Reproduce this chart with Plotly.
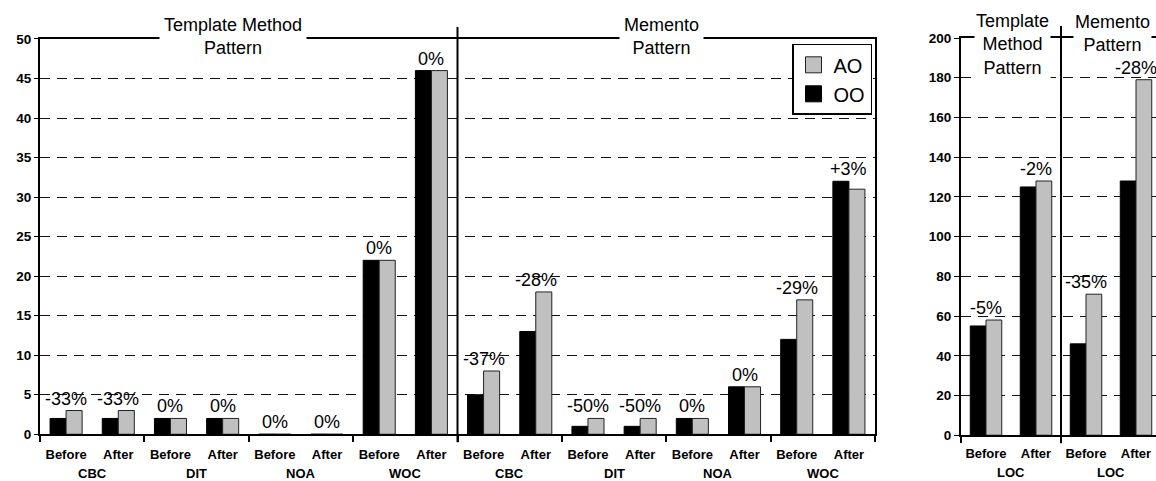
import plotly.graph_objects as go

# ---- data -------------------------------------------------------------
patterns = ["Template Method<br>Pattern", "Memento<br>Pattern"]
patterns_loc = ["Template<br>Method<br>Pattern", "Memento<br>Pattern"]
metrics = ["CBC", "DIT", "NOA", "WOC"]
phases = ["Before", "After"]

# metric values per (metric, phase), Template Method pattern
oo_template = [2, 2, 2, 2, 0, 0, 22, 46]
ao_template = [3, 3, 2, 2, 0, 0, 22, 46]
change_template = ["-33%", "-33%", "0%", "0%", "0%", "0%", "0%", "0%"]

# metric values per (metric, phase), Memento pattern
oo_memento = [5, 13, 1, 1, 2, 6, 12, 32]
ao_memento = [8, 18, 2, 2, 2, 6, 17, 31]
change_memento = ["-37%", "-28%", "-50%", "-50%", "0%", "0%", "-29%", "+3%"]

# lines of code: Template Before/After, Memento Before/After
loc_metric = "LOC"
loc_oo = [55, 125, 46, 128]
loc_ao = [58, 128, 71, 179]
loc_change = ["-5%", "-2%", "-35%", "-28%"]

# ---- styling ----------------------------------------------------------
FONT = "Liberation Sans, Arial, sans-serif"
BLACK = "#000000"
GRAY = "#c0c0c0"
W, H = 1156, 481

oo_left = oo_template + oo_memento
ao_left = ao_template + ao_memento
chg_left = change_template + change_memento
n_left = len(oo_left)
x_left = list(range(n_left))
tick_left = [phases[i % 2] for i in range(n_left)]

x_right = list(range(len(loc_oo)))
tick_right = [phases[i % 2] for i in range(len(loc_oo))]

w_left = 0.307
w_right = 0.315

fig = go.Figure()

# bars, left chart
fig.add_trace(go.Bar(x=x_left, y=oo_left, width=w_left, offset=-w_left,
                     marker=dict(color=BLACK, line=dict(color=BLACK, width=1)),
                     xaxis="x", yaxis="y", showlegend=False))
fig.add_trace(go.Bar(x=x_left, y=ao_left, width=w_left, offset=0,
                     marker=dict(color=GRAY, line=dict(color="#222222", width=1)),
                     xaxis="x", yaxis="y", showlegend=False))
# bars, right chart
fig.add_trace(go.Bar(x=x_right, y=loc_oo, width=w_right, offset=-w_right,
                     marker=dict(color=BLACK, line=dict(color=BLACK, width=1)),
                     xaxis="x2", yaxis="y2", showlegend=False))
fig.add_trace(go.Bar(x=x_right, y=loc_ao, width=w_right, offset=0,
                     marker=dict(color=GRAY, line=dict(color="#222222", width=1)),
                     xaxis="x2", yaxis="y2", showlegend=False))

# legend entries
fig.add_trace(go.Scatter(x=[None], y=[None], mode="markers", name="AO",
                         marker=dict(symbol="square", size=16, color=GRAY,
                                     line=dict(color="#222222", width=1)),
                         xaxis="x", yaxis="y"))
fig.add_trace(go.Scatter(x=[None], y=[None], mode="markers", name="OO",
                         marker=dict(symbol="square", size=16, color=BLACK,
                                     line=dict(color=BLACK, width=1)),
                         xaxis="x", yaxis="y"))

annotations = []
label_font = dict(family=FONT, size=18, color=BLACK)

# percentage change labels above each Before/After pair
for i, txt in enumerate(chg_left):
    annotations.append(dict(x=x_left[i], y=max(oo_left[i], ao_left[i]), xref="x", yref="y",
                            text=txt, showarrow=False, yanchor="bottom", yshift=0,
                            font=label_font))
for i, txt in enumerate(loc_change):
    annotations.append(dict(x=x_right[i], y=max(loc_oo[i], loc_ao[i]), xref="x2", yref="y2",
                            text=txt, showarrow=False, yanchor="bottom", yshift=0,
                            font=label_font))

# metric names under each group
cat_font = dict(family=FONT, size=13, color=BLACK, weight="bold")
for p in range(len(patterns)):
    for m, name in enumerate(metrics):
        annotations.append(dict(x=p * 8 + m * 2 + 0.5, y=0, xref="x", yref="y domain",
                                text=name, showarrow=False, yanchor="top", yshift=-31,
                                borderpad=0, font=cat_font))
for p in range(len(patterns_loc)):
    annotations.append(dict(x=p * 2 + 0.5, y=0, xref="x2", yref="y2 domain",
                            text=loc_metric, showarrow=False, yanchor="top", yshift=-29,
                            borderpad=0, font=cat_font))

# pattern titles sitting on the top border
title_font = dict(family=FONT, size=18, color=BLACK)
title_x = [3.2, 11.4]
for p, name in enumerate(patterns):
    annotations.append(dict(x=title_x[p], y=1, xref="x", yref="y domain",
                            text=name, showarrow=False, yanchor="top", yshift=29,
                            bgcolor="white", borderpad=4, font=title_font))
for p, name in enumerate(patterns_loc):
    annotations.append(dict(x=p * 2 + 0.52, y=1, xref="x2", yref="y2 domain",
                            text=name, showarrow=False, yanchor="top", yshift=29 - p,
                            bgcolor="white", borderpad=1, font=title_font))

# dividers between the two patterns
shapes = [
    dict(type="line", xref="x", yref="y domain", x0=7.5, x1=7.5, y0=-0.02, y1=1.03,
         line=dict(color=BLACK, width=2)),
    dict(type="line", xref="x2", yref="y2 domain", x0=1.5, x1=1.5, y0=-0.02, y1=1.03,
         line=dict(color=BLACK, width=2)),
]

grid = dict(showgrid=True, gridcolor="#111111", gridwidth=1, griddash="10px,7px")
xtickfont = dict(family=FONT, size=13, color=BLACK, weight="bold")
ytickfont = dict(family=FONT, size=13.5, color=BLACK, weight="bold")

fig.update_layout(
    width=W, height=H,
    margin=dict(l=0, r=0, t=0, b=0),
    paper_bgcolor="white", plot_bgcolor="white",
    font=dict(family=FONT, color=BLACK),
    annotations=annotations, shapes=shapes,
    legend=dict(x=792 / W, y=1 - 38 / H, xanchor="left", yanchor="top",
                bgcolor="white", bordercolor=BLACK, borderwidth=1.5,
                font=dict(family=FONT, size=20, color=BLACK),
                itemwidth=30, tracegroupgap=0),
    xaxis=dict(domain=[40 / W, 875 / W], range=[-0.5, n_left - 0.5], anchor="y",
               tickmode="array", tickvals=x_left, ticktext=tick_left, ticks="",
               ticklabelstandoff=7, tickfont=xtickfont, showgrid=False, zeroline=False,
               showline=True, linecolor=BLACK, linewidth=2, mirror=True,
               minor=dict(tickmode="array", tickvals=[i * 2 - 0.5 for i in range(n_left // 2 + 1)],
                          ticks="outside", ticklen=6, tickcolor=BLACK, tickwidth=1.5, showgrid=False)),
    yaxis=dict(domain=[40 / H, 448 / H], range=[0, 50], anchor="x",
               tickmode="linear", tick0=0, dtick=5, ticks="outside", ticklen=4,
               tickcolor=BLACK, tickfont=ytickfont, zeroline=False,
               showline=True, linecolor=BLACK, linewidth=2, mirror=True, **grid),
    xaxis2=dict(domain=[961 / W, 1], range=[-0.5, 3.4], anchor="y2",
                tickmode="array", tickvals=x_right, ticktext=tick_right, ticks="",
                ticklabelstandoff=5, tickfont=xtickfont, showgrid=False, zeroline=False,
                showline=True, linecolor=BLACK, linewidth=2, mirror=True,
                minor=dict(tickmode="array", tickvals=[-0.5, 1.5, 3.5],
                           ticks="outside", ticklen=6, tickcolor=BLACK, tickwidth=1.5, showgrid=False)),
    yaxis2=dict(domain=[39 / H, 449 / H], range=[0, 200], anchor="x2",
                tickmode="linear", tick0=0, dtick=20, ticks="outside", ticklen=5,
                tickcolor=BLACK, tickfont=ytickfont, zeroline=False,
                showline=True, linecolor=BLACK, linewidth=2, mirror=False, **grid),
)

fig.write_html("out.html")
